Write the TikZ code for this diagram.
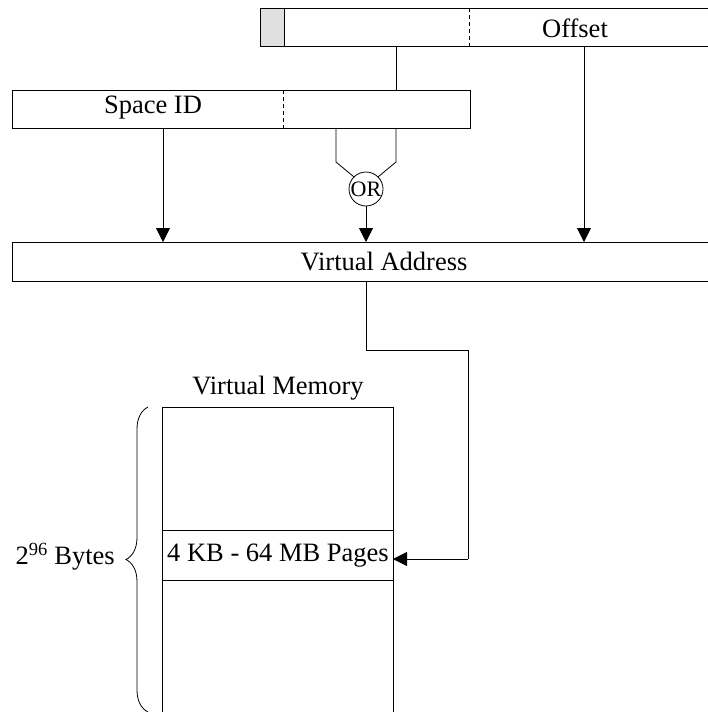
\documentclass[tikz,border=0pt]{standalone}
\usepackage{fontspec}
\setmainfont{Liberation Serif}
\usetikzlibrary{arrows.meta,decorations.pathreplacing,calc}
\begin{document}
\begin{tikzpicture}[x=1pt,y=-1pt,
  box/.style={draw,line width=1.1pt,rectangle,inner sep=0pt,anchor=north west},
  lbl/.style={inner sep=0pt,font=\fontsize{26.5}{31}\selectfont},
  wire/.style={line width=0.8pt},
  arr/.style={wire,-{Triangle[width=14pt,length=14pt]}},
  sep/.style={line width=0.8pt,dash pattern=on 4pt off 3pt}]
\useasboundingbox (0,0) rectangle (708,712);
\clip (0,0) rectangle (708,712);
% top register
\node[box,minimum width=460pt,minimum height=38pt] (reg) at (260,8) {};
\node[box,fill=black!12,minimum width=24pt,minimum height=38pt] (tag) at (260,8) {};
\draw[sep] (469,8) -- (469,46);
\node[lbl] (off) at (575,28) {Offset};
% space id
\node[box,minimum width=458pt,minimum height=38pt] (sid) at (12,90) {};
\draw[sep] (283,90) -- (283,128);
\node[lbl] (sidt) at (153,108) {Space ID};
% virtual address
\node[box,minimum width=710pt,minimum height=39pt] (va) at (12,242) {};
\node[lbl] (vat) at (384,262) {Virtual Address};
% OR
\node[draw,circle,line width=0.8pt,minimum size=34pt,inner sep=0pt,font=\fontsize{22}{24}\selectfont] (or) at (366,189) {OR};
% memory
\node[lbl] (vmt) at (278,388) {Virtual Memory};
\node[box,line width=0.8pt,minimum width=231pt,minimum height=310pt] (mem) at (162,407) {};
\node[box,line width=0.8pt,minimum width=231pt,minimum height=50pt] (pg) at (162,530) {};
\node[lbl] (pgt) at (278,556) {4 KB - 64 MB Pages};
\node[lbl,anchor=east] (bytes) at (115,557) {2\textsuperscript{96} Bytes};
% connectors
\coordinate (r1) at (396,46);
\coordinate (r1b) at (396,90);
\coordinate (r1c) at (396,128);
\coordinate (r1d) at (396,162);
\coordinate (s2) at (336,128);
\coordinate (s2d) at (336,162);
\draw[wire] (r1) -- (r1b);
\draw[wire] (r1c) -- (r1d) -- (or.north east);
\draw[wire] (s2) -- (s2d) -- (or.north west);
\draw[arr] (or.south) -- (or.south |- va.north);
\draw[arr] (163,128) -- (163,242);
\draw[arr] (584,46) -- (584,242);
\coordinate (v1) at (366,281);
\coordinate (v2) at (366,350);
\coordinate (v3) at (468,350);
\coordinate (v4) at (468,559);
\draw[wire] (v1) -- (v2) -- (v3) -- (v4);
\draw[arr] (v4) -- (393,559);
% brace
\draw[line width=0.8pt,decorate,decoration={brace,amplitude=22pt,aspect=0.5}] (148,712) -- (148,407);
\end{tikzpicture}
\end{document}
